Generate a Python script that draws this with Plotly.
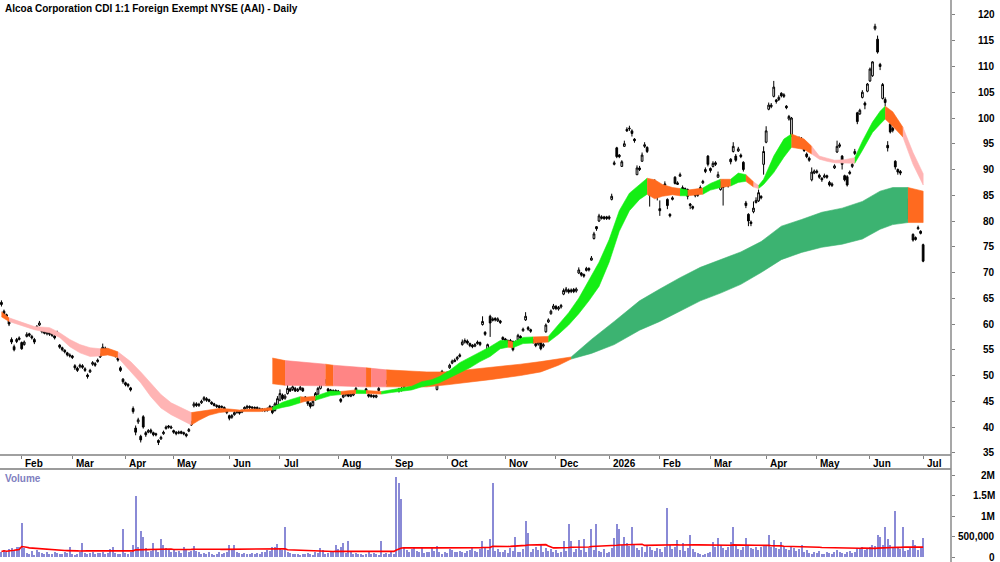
import pandas as pd
import plotly.graph_objects as go

# ---------------- data ----------------
holidays = ["2025-01-27", "2025-04-18", "2025-04-21", "2025-04-25", "2025-06-09",
            "2025-12-25", "2025-12-26", "2026-01-01", "2026-01-26", "2026-04-03",
            "2026-04-06", "2026-06-08"]
days = pd.bdate_range("2025-01-21", "2026-07-01")
days = days[~days.isin(pd.to_datetime(holidays))]

month_labels = ["Feb", "Mar", "Apr", "May", "Jun", "Jul", "Aug", "Sep", "Oct", "Nov",
                "Dec", "2026", "Feb", "Mar", "Apr", "May", "Jun", "Jul"]

opens = [
64.2, 62.5, 61.8, 60.6, 57.0, 55.6, 56.6, 57.0, 56.4, 56.0,
57.6, 58.1, 57.6, 57.0, 59.1, 59.8, 58.9, 58.6, 58.1, 58.4,
58.1, 57.7, 58.0, 55.9, 55.4, 54.9, 54.4, 54.0, 53.8, 51.9,
51.4, 51.7, 51.9, 51.3, 50.1, 50.7, 52.2, 52.3, 52.7, 53.6,
54.2, 55.3, 54.9, 54.6, 54.5, 54.1, 53.4, 51.5, 49.3, 48.6,
48.3, 47.6, 43.6, 39.8, 41.0, 38.2, 42.0, 38.9, 39.0, 39.4,
38.9, 38.7, 37.4, 37.7, 38.7, 39.7, 40.2, 39.8, 39.3, 39.0,
38.8, 39.1, 38.9, 38.6, 39.2, 40.4, 44.1, 44.5, 44.2, 44.7,
45.3, 45.5, 45.3, 44.8, 44.5, 44.2, 44.1, 43.8, 43.8, 43.2,
42.2, 41.9, 42.4, 42.8, 43.0, 42.9, 43.5, 43.7, 44.0, 43.9,
43.6, 43.8, 43.3, 43.5, 43.4, 43.2, 43.7, 43.9, 43.2, 44.3,
45.2, 46.2, 45.6, 46.5, 47.4, 47.3, 47.5, 47.0, 47.3, 47.5,
45.8, 45.0, 44.6, 44.2, 45.3, 46.4, 47.5, 48.6, 49.0, 47.4,
47.2, 46.8, 47.1, 46.7, 45.4, 45.8, 46.2, 46.4, 46.0, 46.2,
47.0, 48.1, 48.3, 48.7, 47.4, 46.3, 45.9, 46.1, 45.8, 47.1,
48.3, 48.5, 48.9, 48.7, 48.4, 48.6, 48.2, 47.4, 47.2, 47.7,
48.4, 48.8, 49.1, 49.1, 49.6, 50.0, 50.3, 49.9, 49.7, 49.6,
49.3, 49.4, 47.3, 48.8, 49.3, 50.5, 50.6, 51.5, 52.4, 52.7,
53.2, 53.7, 56.0, 56.5, 56.7, 56.2, 55.9, 55.7, 56.2, 56.4,
59.9, 58.4, 54.4, 61.5, 60.7, 61.1, 60.6, 60.6, 57.4, 57.1,
56.8, 56.5, 56.6, 56.2, 56.9, 57.6, 58.7, 60.8, 59.3, 58.9,
56.9, 56.2, 56.1, 56.9, 55.7, 58.5, 60.4, 62.0, 63.0, 63.4,
62.9, 63.3, 65.8, 66.4, 66.6, 66.3, 66.7, 66.4, 69.9, 69.9,
69.6, 70.4, 70.8, 72.4, 76.6, 78.9, 80.0, 80.5, 80.8, 80.8,
80.5, 84.2, 91.0, 94.2, 92.8, 90.6, 94.5, 97.8, 97.9, 97.5,
95.9, 89.0, 90.3, 91.6, 94.5, 94.3, 87.1, 85.2, 87.2, 86.7,
82.4, 85.7, 86.9, 84.2, 81.3, 84.2, 88.5, 87.1, 88.7, 85.8,
86.3, 86.1, 83.3, 82.8, 84.9, 85.3, 85.6, 87.4, 89.6, 92.6,
90.2, 90.6, 91.3, 88.5, 86.1, 86.5, 87.7, 87.1, 92.0, 93.5,
92.6, 93.6, 92.8, 91.4, 83.5, 81.3, 79.8, 81.8, 83.6, 83.9,
84.8, 91.0, 95.3, 101.7, 102.2, 104.2, 103.5, 103.6, 104.8, 104.2,
102.3, 99.8, 96.5, 95.5, 95.2, 95.8, 94.5, 94.0, 93.0, 92.2,
88.0, 89.3, 89.4, 88.9, 88.3, 88.5, 88.8, 87.5, 86.9, 90.3,
93.4, 94.5, 92.6, 88.8, 88.6, 89.2, 90.6, 93.1, 101.0, 100.8,
104.0, 102.9, 105.2, 107.2, 108.2, 117.3, 115.3, 110.4, 103.8, 103.6,
94.7, 98.8, 98.0, 91.6, 90.0, 89.6, 85.2, 84.2, 84.2, 80.5,
77.4, 76.4, 78.5, 78.0, 75.4]

highs = [
64.6, 62.8, 62.0, 60.9, 57.4, 56.0, 57.3, 57.6, 56.6, 56.8,
58.4, 58.3, 57.9, 57.3, 59.8, 60.6, 59.1, 58.8, 58.6, 58.6,
58.3, 58.0, 58.7, 56.1, 55.6, 55.1, 54.6, 54.3, 54.0, 52.2,
51.7, 52.3, 52.2, 51.6, 50.4, 51.3, 52.8, 52.6, 53.3, 54.3,
56.2, 55.6, 55.2, 54.8, 54.7, 54.3, 53.6, 51.8, 49.5, 48.8,
48.5, 47.8, 44.0, 40.3, 41.8, 38.5, 42.3, 39.2, 39.6, 39.7,
39.1, 38.9, 37.6, 38.3, 39.3, 40.3, 40.4, 40.3, 39.5, 39.2,
39.3, 39.3, 39.1, 38.8, 39.8, 41.2, 44.9, 44.8, 44.7, 45.3,
46.0, 45.8, 45.5, 45.0, 44.7, 44.4, 44.3, 44.2, 44.0, 43.4,
42.4, 42.5, 43.1, 43.3, 43.2, 43.4, 44.0, 44.3, 44.2, 44.0,
44.0, 44.0, 43.8, 43.7, 43.6, 43.8, 44.3, 44.1, 44.8, 46.0,
47.3, 46.5, 46.4, 48.2, 47.7, 48.1, 47.8, 47.6, 48.0, 47.7,
46.0, 45.2, 44.8, 45.3, 46.8, 47.8, 48.8, 49.8, 49.3, 47.6,
47.4, 47.3, 47.3, 47.2, 45.6, 46.5, 46.7, 46.6, 46.6, 46.7,
47.8, 48.9, 48.9, 48.9, 47.6, 46.5, 46.4, 46.3, 46.3, 47.8,
49.0, 49.1, 49.1, 48.9, 49.0, 48.8, 48.8, 47.6, 47.8, 48.3,
49.1, 49.3, 49.3, 49.8, 50.4, 50.7, 50.5, 50.1, 49.9, 49.8,
49.9, 49.6, 48.7, 48.9, 51.1, 50.7, 50.8, 52.3, 53.1, 53.3,
53.8, 54.3, 57.0, 57.2, 57.0, 56.4, 56.1, 56.3, 56.8, 56.6,
61.5, 58.6, 56.2, 61.8, 61.3, 61.3, 61.3, 60.8, 57.6, 57.3,
57.0, 57.1, 56.8, 56.8, 58.1, 57.8, 59.3, 62.3, 59.6, 59.1,
57.1, 56.4, 56.8, 57.2, 56.3, 60.1, 61.1, 62.8, 63.9, 63.7,
63.5, 63.9, 66.9, 67.2, 66.9, 66.9, 67.0, 67.1, 71.0, 70.1,
69.8, 71.1, 71.0, 73.2, 77.9, 79.0, 81.4, 81.1, 81.0, 81.0,
81.1, 85.3, 91.7, 94.4, 93.0, 91.8, 95.6, 98.2, 98.5, 97.8,
96.1, 90.8, 90.7, 93.3, 95.3, 94.5, 87.3, 88.0, 88.1, 86.9,
84.0, 86.3, 87.7, 84.4, 81.5, 84.8, 88.7, 87.7, 89.4, 86.9,
86.5, 86.3, 83.5, 83.0, 85.6, 85.5, 86.9, 88.0, 90.4, 92.8,
90.4, 91.6, 91.6, 89.6, 87.7, 88.0, 87.9, 87.3, 92.2, 95.3,
93.0, 94.4, 93.1, 91.6, 83.9, 81.5, 80.1, 83.8, 84.6, 86.1,
85.0, 94.5, 98.4, 103.0, 102.9, 107.2, 103.7, 104.4, 105.0, 104.8,
102.5, 100.6, 100.2, 95.8, 95.9, 96.4, 96.3, 94.2, 93.3, 92.5,
90.4, 90.0, 90.0, 89.2, 88.5, 89.2, 89.0, 87.8, 87.5, 91.0,
95.6, 95.2, 92.8, 89.0, 88.9, 89.8, 91.4, 94.0, 101.2, 101.8,
105.4, 103.2, 106.8, 109.8, 111.0, 118.3, 116.0, 110.7, 106.8, 104.0,
95.5, 99.0, 98.3, 91.8, 90.2, 89.9, 85.4, 84.8, 84.4, 80.7,
77.6, 77.0, 79.1, 78.2, 75.6]

lows = [
63.4, 61.6, 61.1, 59.6, 56.1, 54.7, 56.3, 56.8, 55.0, 55.8,
57.4, 57.5, 57.0, 56.1, 58.9, 59.6, 58.2, 58.0, 57.8, 57.7,
57.5, 57.0, 57.8, 55.2, 54.7, 54.3, 53.7, 53.5, 53.2, 51.1,
50.7, 51.4, 51.3, 50.7, 49.4, 50.5, 51.9, 51.7, 52.5, 53.4,
54.0, 54.7, 54.2, 54.0, 53.9, 53.5, 52.7, 50.7, 48.4, 47.9,
47.7, 46.9, 42.6, 38.4, 40.6, 37.0, 39.7, 38.1, 38.8, 38.7,
38.2, 38.2, 36.5, 37.5, 38.5, 39.5, 39.7, 39.6, 38.7, 38.4,
38.6, 38.6, 38.4, 38.0, 39.0, 40.2, 43.8, 43.9, 43.9, 44.5,
45.0, 44.9, 44.8, 44.3, 44.0, 43.7, 43.5, 43.6, 43.2, 42.5,
41.3, 41.6, 42.2, 42.6, 42.4, 42.7, 43.3, 43.5, 43.5, 43.4,
43.4, 43.3, 43.1, 43.0, 42.9, 43.0, 43.5, 42.5, 43.0, 44.0,
45.0, 45.2, 45.3, 46.3, 46.8, 47.0, 46.8, 46.8, 47.1, 46.8,
45.0, 44.1, 43.6, 44.0, 45.1, 46.2, 47.3, 48.4, 48.4, 46.7,
46.6, 46.6, 46.5, 46.5, 44.7, 45.6, 45.9, 45.8, 45.8, 46.0,
46.8, 47.9, 48.1, 48.0, 46.7, 45.7, 45.7, 45.6, 45.6, 46.9,
48.1, 48.3, 48.3, 48.2, 48.2, 48.0, 48.0, 46.7, 46.9, 47.4,
48.2, 48.6, 48.6, 48.9, 49.4, 49.8, 49.8, 49.4, 49.3, 49.1,
49.1, 48.6, 47.1, 48.2, 49.1, 50.0, 49.0, 51.3, 52.2, 52.6,
52.9, 53.5, 55.8, 56.2, 56.0, 55.5, 55.3, 55.5, 56.0, 55.7,
59.7, 57.7, 54.2, 57.5, 60.5, 60.5, 60.4, 60.0, 56.8, 56.5,
56.2, 56.3, 54.7, 55.9, 56.7, 57.0, 58.5, 60.6, 58.7, 58.3,
56.2, 55.5, 55.8, 54.9, 55.4, 58.3, 60.2, 61.8, 62.8, 62.7,
62.6, 63.0, 65.6, 66.1, 65.9, 66.0, 66.0, 66.1, 69.7, 69.2,
69.0, 70.2, 70.2, 72.3, 76.4, 78.1, 79.8, 80.3, 80.2, 80.2,
80.2, 84.0, 90.8, 92.2, 92.2, 90.5, 94.4, 97.3, 97.5, 96.4,
95.2, 88.9, 89.7, 91.5, 94.2, 93.2, 82.8, 85.0, 87.0, 84.0,
81.0, 85.4, 86.7, 82.3, 80.7, 84.0, 87.1, 87.0, 88.6, 85.6,
85.7, 84.2, 82.3, 82.2, 84.6, 84.7, 85.4, 87.2, 89.3, 90.6,
89.4, 90.4, 90.7, 88.4, 85.9, 83.0, 86.7, 86.5, 91.0, 93.3,
91.5, 93.4, 92.2, 89.6, 82.5, 79.0, 79.0, 81.5, 83.4, 83.7,
84.2, 89.0, 95.1, 101.5, 101.9, 104.0, 102.8, 103.3, 104.0, 103.9,
101.7, 99.5, 96.3, 94.3, 94.9, 95.5, 94.3, 93.4, 92.2, 91.5,
87.7, 89.1, 89.2, 88.2, 87.6, 88.3, 88.2, 86.7, 86.6, 90.1,
93.2, 94.2, 90.0, 87.7, 86.7, 89.0, 90.3, 92.8, 98.8, 100.6,
103.8, 101.7, 105.0, 107.0, 108.0, 117.0, 112.5, 109.3, 103.6, 102.3,
93.5, 97.0, 97.2, 90.0, 89.0, 88.9, 83.6, 84.0, 80.3, 79.9,
76.0, 76.2, 78.3, 77.4, 72.0]

closes = [
63.8, 62.0, 61.5, 60.0, 56.5, 55.0, 57.0, 57.3, 55.2, 56.5,
58.0, 57.8, 57.3, 56.5, 59.5, 60.2, 58.5, 58.2, 58.3, 58.0,
57.8, 57.3, 58.4, 55.5, 55.0, 54.6, 54.0, 53.8, 53.5, 51.5,
51.0, 52.0, 51.6, 51.0, 49.8, 51.0, 52.5, 52.0, 53.0, 54.0,
55.5, 55.0, 54.5, 54.3, 54.2, 53.8, 53.0, 51.0, 48.8, 48.2,
48.0, 47.2, 43.0, 39.0, 41.4, 37.5, 40.0, 38.5, 39.3, 39.0,
38.5, 38.5, 37.0, 38.0, 39.0, 40.0, 40.0, 40.0, 39.0, 38.7,
39.0, 38.8, 38.7, 38.3, 39.5, 40.8, 44.5, 44.2, 44.4, 45.0,
45.7, 45.2, 45.0, 44.5, 44.2, 44.0, 43.8, 44.0, 43.5, 42.8,
41.7, 42.2, 42.8, 43.0, 42.7, 43.2, 43.8, 44.0, 43.8, 43.7,
43.8, 43.5, 43.5, 43.3, 43.2, 43.5, 44.0, 42.8, 44.5, 45.5,
46.5, 45.5, 46.0, 47.5, 47.0, 47.8, 47.0, 47.3, 47.7, 47.0,
45.3, 44.5, 44.0, 45.0, 46.5, 47.5, 48.5, 49.3, 48.7, 47.0,
46.9, 47.1, 46.8, 47.0, 45.0, 46.2, 46.5, 46.0, 46.3, 46.5,
47.5, 48.5, 48.6, 48.3, 47.0, 46.0, 46.2, 45.9, 46.1, 47.5,
48.7, 48.8, 48.6, 48.5, 48.7, 48.3, 48.5, 47.0, 47.5, 48.0,
48.8, 49.0, 48.8, 49.5, 50.0, 50.3, 50.0, 49.6, 49.5, 49.4,
49.6, 48.8, 48.5, 48.5, 50.8, 50.2, 49.3, 52.0, 52.8, 53.0,
53.5, 54.0, 56.5, 56.8, 56.3, 55.8, 55.6, 56.0, 56.5, 56.0,
60.5, 58.0, 56.0, 60.2, 61.0, 60.8, 61.0, 60.3, 57.0, 56.8,
56.5, 56.8, 55.0, 56.5, 57.8, 57.3, 59.0, 61.5, 59.0, 58.6,
56.5, 55.8, 56.5, 55.2, 56.0, 59.8, 60.8, 62.5, 63.5, 63.0,
63.2, 63.6, 66.5, 66.8, 66.2, 66.6, 66.3, 66.8, 70.5, 69.5,
69.3, 70.8, 70.5, 72.8, 77.5, 78.5, 81.0, 80.8, 80.5, 80.5,
80.8, 84.8, 91.3, 92.5, 92.5, 91.5, 95.0, 97.5, 98.0, 97.0,
95.6, 90.3, 90.0, 92.8, 94.8, 93.5, 85.0, 87.0, 87.5, 85.0,
82.0, 86.0, 87.2, 83.0, 81.0, 84.5, 87.3, 87.4, 89.0, 86.5,
86.0, 84.8, 83.0, 82.5, 85.2, 85.0, 86.5, 87.7, 90.0, 91.0,
89.8, 91.2, 91.0, 89.0, 87.0, 87.5, 87.0, 86.8, 91.5, 94.5,
91.8, 94.0, 92.5, 90.0, 83.0, 80.0, 79.5, 82.5, 84.0, 85.5,
84.5, 93.5, 97.5, 102.5, 102.5, 106.0, 103.2, 104.0, 104.3, 104.5,
102.0, 100.3, 100.0, 95.0, 95.5, 96.0, 95.5, 93.7, 92.5, 91.8,
89.5, 89.7, 89.7, 88.5, 88.0, 88.8, 88.5, 87.0, 87.2, 90.7,
94.5, 94.8, 91.0, 88.0, 87.0, 89.5, 91.0, 93.5, 99.3, 101.5,
105.0, 102.5, 106.6, 109.5, 110.9, 117.8, 112.8, 110.0, 106.5, 103.0,
94.2, 97.3, 97.6, 90.5, 89.5, 89.3, 84.0, 84.5, 80.5, 80.2,
76.3, 76.8, 78.7, 77.6, 72.2]

volume_m = [
0.14, 0.18, 0.12, 0.20, 0.22, 0.16, 0.24, 0.26, 0.83, 0.22,
0.10, 0.08, 0.16, 0.06, 0.18, 0.14, 0.10, 0.08, 0.12, 0.07,
0.09, 0.12, 0.10, 0.07, 0.08, 0.14, 0.10, 0.24, 0.09, 0.06,
0.08, 0.12, 0.34, 0.10, 0.09, 0.11, 0.13, 0.08, 0.10, 0.11,
0.14, 0.07, 0.10, 0.20, 0.26, 0.11, 0.08, 0.07, 0.68, 0.10,
0.08, 0.12, 0.30, 1.49, 0.25, 0.63, 0.49, 0.22, 0.14, 0.16,
0.34, 0.18, 0.12, 0.44, 0.30, 0.22, 0.17, 0.14, 0.20, 0.12,
0.16, 0.11, 0.24, 0.18, 0.12, 0.15, 0.27, 0.16, 0.12, 0.08,
0.10, 0.07, 0.12, 0.09, 0.06, 0.08, 0.12, 0.07, 0.10, 0.14,
0.29, 0.18, 0.30, 0.12, 0.10, 0.08, 0.11, 0.07, 0.09, 0.10,
0.08, 0.10, 0.07, 0.12, 0.14, 0.18, 0.15, 0.24, 0.26, 0.32,
0.22, 0.18, 0.73, 0.14, 0.10, 0.08, 0.07, 0.09, 0.06, 0.08,
0.07, 0.10, 0.09, 0.06, 0.12, 0.10, 0.22, 0.18, 0.08, 0.11,
0.15, 0.12, 0.30, 0.20, 0.24, 0.35, 0.10, 0.40, 0.12, 0.08,
0.10, 0.07, 0.09, 0.06, 0.08, 0.12, 0.07, 0.10, 0.09, 0.06,
0.40, 0.08, 0.10, 0.07, 0.12, 0.09, 1.95, 1.80, 1.41, 0.24,
0.18, 0.14, 0.20, 0.26, 0.16, 0.12, 0.24, 0.10, 0.14, 0.12,
0.26, 0.16, 0.27, 0.12, 0.09, 0.14, 0.10, 0.20, 0.18, 0.12,
0.14, 0.16, 0.12, 0.10, 0.15, 0.18, 0.22, 0.16, 0.12, 0.20,
0.40, 0.24, 0.18, 0.45, 1.80, 0.16, 0.20, 0.14, 0.12, 0.18,
0.10, 0.22, 0.16, 0.49, 0.12, 0.14, 0.20, 0.88, 0.60, 0.12,
0.20, 0.24, 0.18, 0.30, 0.14, 0.22, 0.16, 0.20, 0.12, 0.18,
0.10, 0.14, 0.40, 0.16, 0.80, 0.40, 0.14, 0.20, 0.42, 0.18,
0.45, 0.14, 0.22, 0.70, 0.18, 0.80, 0.16, 0.12, 0.20, 0.10,
0.14, 0.22, 0.46, 0.80, 0.70, 0.30, 0.49, 0.35, 0.28, 0.73,
0.30, 0.22, 0.18, 0.26, 0.14, 0.30, 0.24, 0.18, 0.16, 0.22,
0.20, 0.14, 0.26, 1.19, 0.30, 0.20, 0.24, 0.42, 0.18, 0.35,
0.16, 0.22, 0.54, 0.20, 0.14, 0.10, 0.08, 0.06, 0.07, 0.10,
0.12, 0.38, 0.26, 0.46, 0.30, 0.22, 0.18, 0.24, 0.37, 0.73,
0.28, 0.20, 0.18, 0.24, 0.46, 0.30, 0.22, 0.20, 0.26, 0.18,
0.24, 0.30, 0.28, 0.54, 0.26, 0.42, 0.22, 0.20, 0.38, 0.24,
0.20, 0.18, 0.24, 0.22, 0.16, 0.20, 0.30, 0.12, 0.18, 0.10,
0.08, 0.12, 0.10, 0.16, 0.07, 0.09, 0.14, 0.10, 0.08, 0.12,
0.18, 0.14, 0.10, 0.08, 0.12, 0.16, 0.10, 0.14, 0.22, 0.20,
0.24, 0.18, 0.22, 0.26, 0.30, 0.28, 0.55, 0.50, 0.30, 0.73,
0.44, 0.30, 0.26, 1.13, 0.24, 0.20, 0.73, 0.16, 0.18, 0.24,
0.42, 0.30, 0.18, 0.22, 0.48]

# short-term trend ribbon (bar index, upper edge, lower edge, colour of each interval)
short_x = [0, 3, 13, 19, 23, 27, 31, 35, 39, 42,
           46, 51, 55, 59, 63, 67, 71, 75, 78, 82,
           86, 90, 94, 98, 102, 107, 111, 114, 118, 120,
           124, 130, 134, 140, 144, 150, 154, 158, 162, 166,
           170, 173, 177, 181, 185, 189, 193, 197, 200, 202,
           206, 210, 216, 220, 224, 228, 232, 236, 240, 244,
           248, 252, 255, 258, 261, 265, 268, 271, 277, 280,
           284, 288, 291, 294, 297, 299, 301, 305, 309, 312,
           317, 320, 323, 326, 329, 333, 337, 340, 344, 347,
           349, 352, 356, 360, 364]
short_hi = [62.4, 61.2, 59.5, 59.3, 58.3, 57.0, 56.0, 55.4, 55.2, 55.3,
            54.6, 52.7, 50.7, 48.6, 46.3, 44.7, 43.7, 42.8, 43.0, 43.3,
            43.6, 43.5, 43.3, 43.5, 43.5, 43.8, 44.8, 45.3, 45.9, 45.8,
            46.0, 47.0, 46.9, 47.2, 47.1, 46.9, 47.2, 47.6, 47.9, 48.8,
            49.2, 49.8, 51.0, 52.5, 53.5, 54.6, 55.6, 56.8, 56.8, 56.5,
            57.4, 57.5, 57.6, 59.9, 62.2, 65.0, 68.5, 72.0, 76.4, 82.0,
            85.4, 87.1, 88.3, 88.0, 87.1, 86.5, 86.3, 86.0, 86.4, 87.3,
            88.1, 88.1, 89.3, 89.0, 87.6, 86.9, 88.1, 92.6, 95.9, 96.9,
            95.9, 94.5, 92.6, 92.2, 91.8, 91.9, 92.3, 95.5, 99.2, 101.3,
            102.3, 101.2, 98.2, 93.3, 89.2]
short_lo = [61.4, 60.5, 58.9, 58.3, 57.4, 55.6, 54.4, 53.7, 53.8, 54.0,
            53.5, 50.7, 48.6, 45.9, 43.7, 42.4, 41.4, 40.4, 41.3, 42.3,
            42.8, 43.0, 42.9, 43.0, 43.0, 43.3, 43.8, 44.1, 44.7, 45.0,
            45.2, 46.1, 46.3, 46.5, 46.5, 46.4, 46.7, 47.0, 47.2, 47.8,
            48.2, 48.6, 49.6, 50.5, 51.5, 52.7, 53.7, 55.2, 55.5, 55.4,
            56.2, 56.3, 56.5, 58.0, 59.8, 62.0, 64.5, 67.3, 72.0, 78.0,
            82.0, 84.2, 85.2, 84.3, 84.8, 85.1, 84.9, 84.9, 85.2, 86.0,
            86.5, 86.8, 87.5, 87.7, 86.6, 86.3, 87.1, 89.4, 92.4, 94.3,
            93.9, 93.0, 92.0, 91.6, 91.3, 91.3, 91.2, 93.7, 97.2, 98.8,
            99.8, 98.4, 96.3, 91.0, 87.0]
short_cols = list("O" + "PPPPPPP" + "OO" + "PPPPPPP" + "OOOOOOOO" + "GGG" + "OO"
                  + "GG" + "O" + "G" + "O" + "GGGGGGGGGGGGG" + "O" + "GG" + "O"
                  + "GGGGGGGGGG" + "OOOO" + "G" + "O" + "GG" + "O" + "GG" + "O" + "P"
                  + "GGGG" + "OO" + "PPPPP" + "GGGG" + "OO" + "PP")

# long-term trend ribbon
long_x = [107, 112, 128, 131, 144, 146, 152, 160, 168, 176,
          184, 193, 205, 213, 220, 225, 233, 242, 252, 260,
          268, 276, 284, 292, 300, 308, 316, 324, 332, 340,
          347, 352, 358, 364]
long_hi = [53.4, 52.9, 52.2, 52.0, 51.5, 51.4, 51.1, 50.9, 50.7, 50.7,
           51.1, 51.5, 52.2, 52.7, 53.2, 53.6, 57.0, 60.5, 64.5, 66.8,
           69.0, 71.0, 72.5, 74.0, 76.0, 79.0, 80.3, 81.7, 82.5, 83.8,
           85.8, 86.5, 86.5, 85.8]
long_lo = [48.4, 48.1, 48.0, 48.0, 47.8, 47.8, 47.8, 47.8, 47.8, 48.2,
           48.6, 49.2, 50.0, 50.7, 52.0, 53.2, 54.3, 56.0, 58.8, 60.5,
           62.5, 64.5, 66.0, 67.7, 70.0, 72.5, 73.9, 74.9, 75.5, 76.5,
           78.4, 79.3, 79.7, 79.7]
long_cols = list("OPOPOP" + "OOOOOOOOO" + "DDDDDDDDDDDDDDDDD" + "O")

price_ticks = list(range(35, 121, 5))
vol_ticks = [0, 0.5, 1.0, 1.5, 2.0]
vol_tick_text = ["0", "500,000", "1M", "1.5M", "2M"]

title = "Alcoa Corporation CDI 1:1 Foreign Exempt NYSE (AAI) - Daily"

n = len(days)
for nm, arr in [("opens", opens), ("highs", highs), ("lows", lows), ("closes", closes), ("volume_m", volume_m)]:
    assert len(arr) == n, (nm, len(arr), n)
assert len(short_cols) == len(short_x) - 1, len(short_cols)
assert len(long_cols) == len(long_x) - 1, len(long_cols)

bars = list(range(n))

# month tick positions: first trading day of every month after the first bar
month_idx = []
prev = None
for i, d in enumerate(days):
    key = (d.year, d.month)
    if key != prev and i > 0:
        month_idx.append(i)
    prev = key

vol_avg = pd.Series(volume_m).rolling(60, min_periods=1).mean().tolist()

# ---------------- figure ----------------
FONT = "Arial, 'Liberation Sans', sans-serif"
fig = go.Figure()

short_pal = {"G": "#14EE14", "O": "#FF6A1F", "P": "#FFB4B4"}
long_pal = {"D": "#3CB371", "O": "#FF6A1F", "P": "#FF8585"}


def add_ribbon(xs, hi, lo, cols, pal):
    start = 0
    for k in range(1, len(cols) + 1):
        if k == len(cols) or cols[k] != cols[start]:
            a, b = start, k
            px = xs[a:b + 1] + xs[a:b + 1][::-1]
            py = hi[a:b + 1] + lo[a:b + 1][::-1]
            c = pal[cols[start]]
            fig.add_trace(go.Scatter(x=px, y=py, mode="lines", fill="toself",
                                     fillcolor=c, line=dict(color=c, width=0.6),
                                     hoverinfo="skip", showlegend=False,
                                     xaxis="x", yaxis="y"))
            start = k


add_ribbon(long_x, long_hi, long_lo, long_cols, long_pal)
add_ribbon(short_x, short_hi, short_lo, short_cols, short_pal)

fig.add_trace(go.Candlestick(
    x=bars, open=opens, high=highs, low=lows, close=closes,
    increasing=dict(line=dict(color="black", width=1), fillcolor="white"),
    decreasing=dict(line=dict(color="black", width=1), fillcolor="black"),
    whiskerwidth=0, showlegend=False, xaxis="x", yaxis="y"))

fig.add_trace(go.Bar(x=bars, y=volume_m, width=0.45,
                     marker=dict(color="#8A8AD6", line=dict(width=0)),
                     showlegend=False, xaxis="x2", yaxis="y2"))
fig.add_trace(go.Scatter(x=bars, y=vol_avg, mode="lines",
                         line=dict(color="#FF0000", width=1.6),
                         showlegend=False, xaxis="x2", yaxis="y2"))

# geometry (pixels of the 1000x562 page)
H = 562.0
PLOT_W = 951.0
price_bottom = (H - 455) / H
vol_top = (H - 469) / H

xr = [-0.57, 375.0]
fig.update_layout(
    width=1000, height=562,
    margin=dict(l=0, r=1000 - PLOT_W, t=0, b=0),
    paper_bgcolor="white", plot_bgcolor="white",
    showlegend=False, bargap=0, boxgap=0.02,
    font=dict(family=FONT, size=10, color="black"),
    xaxis=dict(domain=[0, 1], range=xr, anchor="y", showgrid=False, zeroline=False,
               showline=False, tickvals=month_idx, ticks="outside", ticklen=3,
               tickcolor="#808080", showticklabels=False,
               rangeslider=dict(visible=False), automargin=False),
    xaxis2=dict(domain=[0, 1], range=xr, anchor="y2", matches="x", showgrid=False,
                zeroline=False, showline=False, showticklabels=False, ticks="",
                automargin=False),
    yaxis=dict(domain=[price_bottom, 1], range=[34.57, 122.91], side="right",
               anchor="x", showgrid=False, zeroline=False, showline=False,
               tickvals=price_ticks, ticks="outside", ticklen=3, tickcolor="#808080",
               showticklabels=False, automargin=False),
    yaxis2=dict(domain=[0, vol_top], range=[-0.114, 2.146], side="right",
                anchor="x2", showgrid=False, zeroline=False, showline=False,
                tickvals=vol_ticks, ticks="outside", ticklen=3, tickcolor="#808080",
                showticklabels=False, automargin=False),
)

shapes = [
    dict(type="line", xref="paper", yref="paper", x0=0, x1=1, y0=price_bottom, y1=price_bottom,
         line=dict(color="#A0A0A0", width=2)),
    dict(type="line", xref="paper", yref="paper", x0=0, x1=1, y0=vol_top, y1=vol_top,
         line=dict(color="#7A7A7A", width=1.5)),
    dict(type="line", xref="paper", yref="paper", x0=1, x1=1, y0=0, y1=1,
         line=dict(color="#8A8A8A", width=1.5)),
]
fig.update_layout(shapes=shapes)

ann = []
lab_x = 997.0 / PLOT_W
ann.append(dict(text="<b>" + title + "</b>", xref="paper", yref="paper",
                x=2.5 / PLOT_W, y=1 - 8.5 / H, xanchor="left", yanchor="middle",
                showarrow=False, font=dict(size=10, color="black", family=FONT)))
ann.append(dict(text="<b>Volume</b>", xref="paper", yref="paper",
                x=2.5 / PLOT_W, y=(H - 478) / H, xanchor="left", yanchor="middle",
                showarrow=False, font=dict(size=10, color="#8080C0", family=FONT)))
for v in price_ticks:
    ann.append(dict(text="<b>%d</b>" % v, xref="paper", yref="y", x=lab_x, y=v,
                    xanchor="right", yanchor="middle", showarrow=False,
                    font=dict(size=10, color="black", family=FONT)))
for v, t in zip(vol_ticks, vol_tick_text):
    ann.append(dict(text="<b>%s</b>" % t, xref="paper", yref="y2", x=lab_x, y=v,
                    xanchor="right", yanchor="middle", showarrow=False,
                    font=dict(size=10, color="black", family=FONT)))
for i, t in zip(month_idx, month_labels):
    ann.append(dict(text="<b>%s</b>" % t, xref="x", yref="paper", x=i + 0.6,
                    y=(H - 463) / H, xanchor="left", yanchor="middle", showarrow=False,
                    font=dict(size=10, color="black", family=FONT)))
fig.update_layout(annotations=ann)

fig.write_html("out.html")
